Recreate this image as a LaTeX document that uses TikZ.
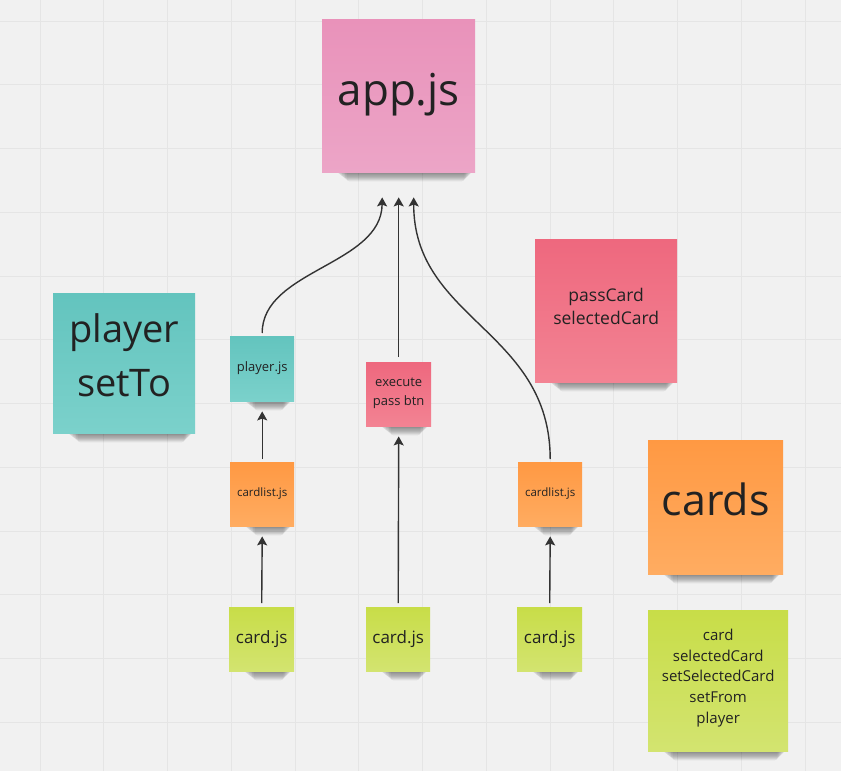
\documentclass[tikz,border=0pt]{standalone}
\usepackage{fontspec}
\setmainfont{Open Sans}
\usetikzlibrary{arrows.meta}
\definecolor{bg}{HTML}{F1F1F1}
\definecolor{gridc}{HTML}{E5E5E5}
\definecolor{txt}{HTML}{222222}
\definecolor{arrc}{HTML}{333333}
\definecolor{pkA}{HTML}{E992BA}
\definecolor{pkB}{HTML}{ECA5C7}
\definecolor{tlA}{HTML}{63C4BE}
\definecolor{tlB}{HTML}{7BD1CB}
\definecolor{rdA}{HTML}{EE687E}
\definecolor{rdB}{HTML}{F38393}
\definecolor{orA}{HTML}{FF9943}
\definecolor{orB}{HTML}{FFAC61}
\definecolor{lmA}{HTML}{C8DD48}
\definecolor{lmB}{HTML}{D3E470}
\newcommand\noteshadow[3]{%
  \foreach \i in {0,...,7} {
    \fill[black,opacity=0.065,rounded corners=3pt]
      ({#1+14+\i*1.5},{#3-6}) rectangle ({#2-2-\i*1.2},{#3+1+\i*1.2});
  }%
}
\newcommand\nt[2]{\raisebox{#1pt}[\height][\depth]{\begin{tabular}{@{}c@{}}#2\end{tabular}}}
\begin{document}
\begin{tikzpicture}[x=1pt,y=-1pt,
  note/.style={anchor=north west, inner sep=0pt, text=txt},
  pink/.style={top color=pkA, bottom color=pkB},
  teal/.style={top color=tlA, bottom color=tlB},
  red/.style={top color=rdA, bottom color=rdB},
  orng/.style={top color=orA, bottom color=orB},
  lime/.style={top color=lmA, bottom color=lmB},
  arr/.style={draw=arrc, line width=1.4pt, -{Stealth[length=9pt,width=10pt,inset=1.8pt]}},
]
\useasboundingbox (0,0) rectangle (841,771);
\fill[bg] (0,0) rectangle (841,771);
\foreach \n in {0,...,12} \draw[gridc, line width=1pt] ({40+63.75*\n},0) -- ({40+63.75*\n},771);
\foreach \n in {0,...,11} \draw[gridc, line width=1pt] (0,{21+63.75*\n}) -- (841,{21+63.75*\n});

% shadows
\noteshadow{322}{475}{172}
\noteshadow{53}{195}{433}
\noteshadow{230}{294}{401}
\noteshadow{535}{677}{382}
\noteshadow{366}{431}{426}
\noteshadow{230}{294}{526}
\noteshadow{518}{582}{526}
\noteshadow{648}{783}{574}
\noteshadow{229}{294}{671}
\noteshadow{366}{430}{671}
\noteshadow{517}{582}{671}
\noteshadow{648}{788}{751}

% notes
\node[note, pink, minimum width=153, minimum height=153, font=\fontsize{44}{52}\selectfont] (app) at (322,19) {\nt{1}{app.js}};
\node[note, teal, minimum width=142, minimum height=140, font=\fontsize{38}{54}\selectfont] (pst) at (53,293) {\nt{5}{player\\setTo}};
\node[note, teal, minimum width=64, minimum height=65, font=\fontsize{13}{18}\selectfont] (pjs) at (230,336) {\nt{0.5}{player.js}};
\node[note, red, minimum width=142, minimum height=143, font=\fontsize{17.5}{23}\selectfont] (pc) at (535,239) {\nt{2.5}{passCard\\selectedCard}};
\node[note, red, minimum width=65, minimum height=64, font=\fontsize{13}{18.3}\selectfont] (exe) at (366,362) {\nt{2}{execute\\pass btn}};
\node[note, orng, minimum width=64, minimum height=64, font=\fontsize{11.5}{15}\selectfont] (cl1) at (230,462) {\nt{0.5}{cardlist.js}};
\node[note, orng, minimum width=64, minimum height=64, font=\fontsize{11.5}{15}\selectfont] (cl2) at (518,462) {\nt{0.5}{cardlist.js}};
\node[note, orng, minimum width=135, minimum height=134, font=\fontsize{43}{52}\selectfont] (cards) at (648,440) {\nt{2}{cards}};
\node[note, lime, minimum width=65, minimum height=64, font=\fontsize{17}{22}\selectfont] (c1) at (229,607) {\nt{0.5}{card.js}};
\node[note, lime, minimum width=64, minimum height=64, font=\fontsize{17}{22}\selectfont] (c2) at (366,607) {\nt{0.5}{card.js}};
\node[note, lime, minimum width=65, minimum height=64, font=\fontsize{17}{22}\selectfont] (c3) at (517,607) {\nt{0.5}{card.js}};
\node[note, lime, minimum width=140, minimum height=141, font=\fontsize{15}{20.8}\selectfont] (lst) at (648,610) {\nt{3}{card\\selectedCard\\setSelectedCard\\setFrom\\player}};

% connectors
\draw[arr] ([shift={(0,-3)}]pjs.north) .. controls (262,270) and (381.5,265) .. ([shift={(-16.5,25)}]app.south);
\draw[arr] ([shift={(0,-5)}]exe.north) -- ([shift={(0,25)}]app.south);
\draw[arr] ([shift={(0,-3)}]cl2.north) .. controls (550,330) and (413.5,320) .. ([shift={(15,25)}]app.south);
\draw[arr] ([shift={(0,-3)}]cl1.north) -- ([shift={(0,10)}]pjs.south);
\draw[arr] ([shift={(0,-4)}]c1.north) -- ([shift={(0,10)}]cl1.south);
\draw[arr] ([shift={(0,-4)}]c2.north) -- ([shift={(0,10)}]exe.south);
\draw[arr] ([shift={(0,-4)}]c3.north) -- ([shift={(0,10)}]cl2.south);
\end{tikzpicture}
\end{document}
